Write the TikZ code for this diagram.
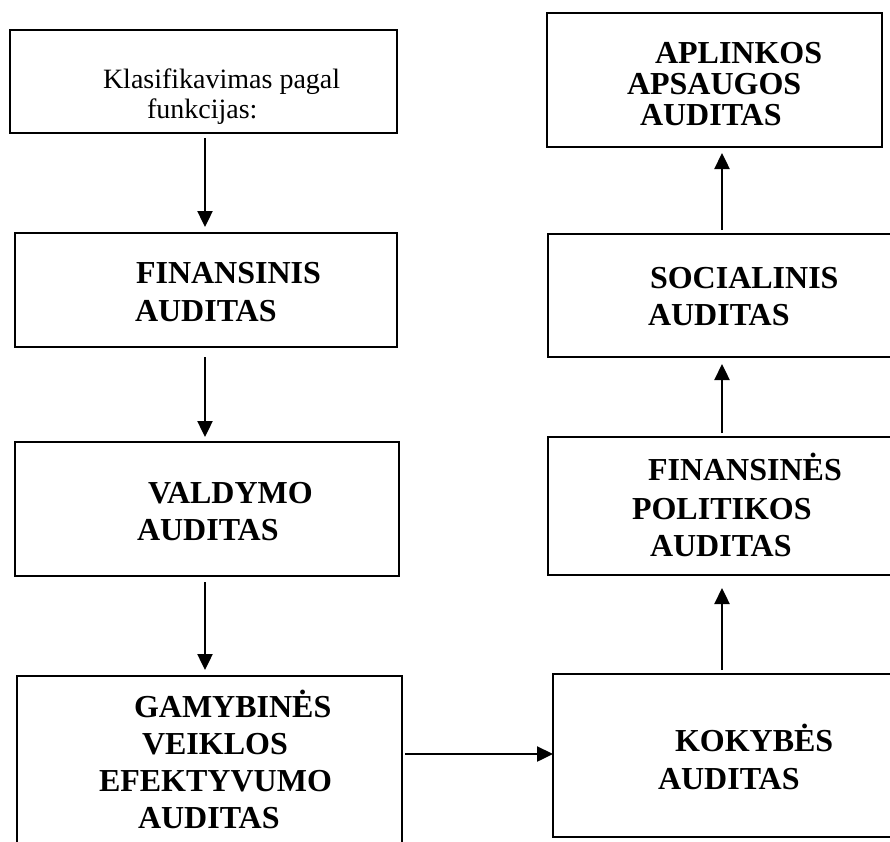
\documentclass[tikz,border=0pt]{standalone}
\usepackage{fontspec}
\setmainfont{Liberation Serif}
\usetikzlibrary{arrows.meta}
\begin{document}
\begin{tikzpicture}[x=1pt,y=-1pt,
  box/.style={draw=black,line width=1.6pt,rectangle,inner sep=0pt,outer sep=0pt,anchor=north west},
  lbl/.style={anchor=base west,inner sep=0pt,outer sep=0pt,text height=21pt,text depth=3pt,
              font=\bfseries\fontsize{32}{38}\selectfont},
  plain/.style={anchor=base west,inner sep=0pt,outer sep=0pt,font=\fontsize{28}{33}\selectfont},
  arr/.style={line width=2.4pt,-{Triangle[length=16pt,width=15pt]}}]
\useasboundingbox (0,0) rectangle (890,841);
\clip (0,0) rectangle (890,841);

% guides for the connectors
\coordinate (lcol) at (205,0);
\coordinate (rcol) at (722,0);
\coordinate (hrow) at (0,754);

% left column
\node[box,minimum width=387pt,minimum height=103pt] (b1) at (10,30) {};
\node[box,minimum width=382pt,minimum height=114pt] (b2) at (15,233) {};
\node[box,minimum width=384pt,minimum height=134pt] (b3) at (15,442) {};
\node[box,minimum width=385pt,minimum height=190pt] (b4) at (17,676) {};

% right column
\node[box,minimum width=335pt,minimum height=134pt] (r1) at (547,13) {};
\node[box,minimum width=352pt,minimum height=123pt] (r2) at (548,234) {};
\node[box,minimum width=352pt,minimum height=138pt] (r3) at (548,437) {};
\node[box,minimum width=347pt,minimum height=163pt] (r4) at (553,674) {};

% texts
\node[plain] (t1a) at (103,88) {Klasifikavimas pagal};
\node[plain] (t1b) at (147,118) {funkcijas:};

\node[lbl] (t2a) at (136,283) {FINANSINIS};
\node[lbl] (t2b) at (135,321) {AUDITAS};

\node[lbl] (t3a) at (148,503) {VALDYMO};
\node[lbl] (t3b) at (137,540) {AUDITAS};

\node[lbl] (t4a) at (134,717) {GAMYBINĖS};
\node[lbl] (t4b) at (142,754) {VEIKLOS};
\node[lbl] (t4c) at (99,791) {EFEKTYVUMO};
\node[lbl] (t4d) at (138,828) {AUDITAS};

\node[lbl] (u1a) at (655,63) {APLINKOS};
\node[lbl] (u1b) at (627,94) {APSAUGOS};
\node[lbl] (u1c) at (640,125) {AUDITAS};

\node[lbl] (u2a) at (650,288) {SOCIALINIS};
\node[lbl] (u2b) at (648,325) {AUDITAS};

\node[lbl] (u3a) at (648,480) {FINANSINĖS};
\node[lbl] (u3b) at (632,519) {POLITIKOS};
\node[lbl] (u3c) at (650,556) {AUDITAS};

\node[lbl] (u4a) at (675,751) {KOKYBĖS};
\node[lbl] (u4b) at (658,789) {AUDITAS};

% connectors
\draw[arr,shorten <=5pt,shorten >=6pt] (b1.south -| lcol) -- (b2.north -| lcol);
\draw[arr,shorten <=10pt,shorten >=5pt] (b2.south -| lcol) -- (b3.north -| lcol);
\draw[arr,shorten <=6pt,shorten >=6pt] (b3.south -| lcol) -- (b4.north -| lcol);
\draw[arr,shorten <=3pt] (b4.east |- hrow) -- (r4.west |- hrow);
\draw[arr,shorten <=4pt,shorten >=13pt] (r4.north -| rcol) -- (r3.south -| rcol);
\draw[arr,shorten <=4pt,shorten >=7pt] (r3.north -| rcol) -- (r2.south -| rcol);
\draw[arr,shorten <=4pt,shorten >=6pt] (r2.north -| rcol) -- (r1.south -| rcol);
\end{tikzpicture}
\end{document}
